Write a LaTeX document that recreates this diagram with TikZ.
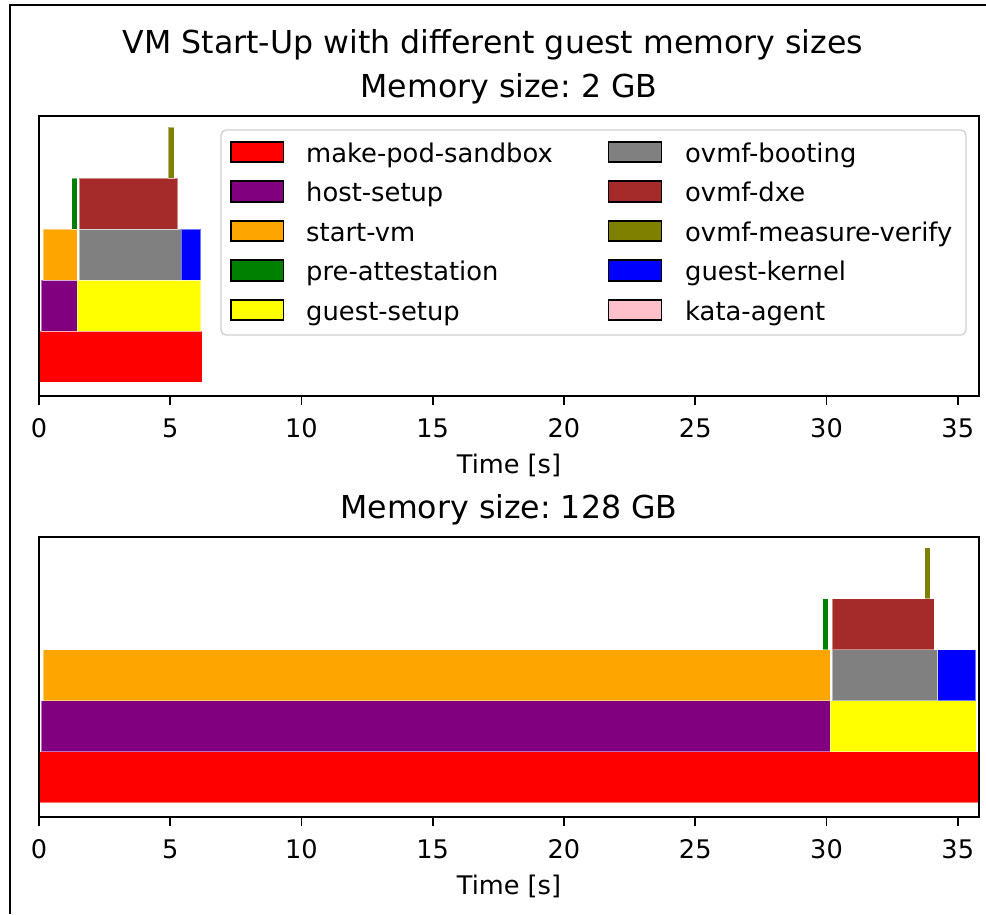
\documentclass[tikz,border=0pt]{standalone}
\usepackage{fontspec}
\setmainfont{DejaVu Sans}
\frenchspacing

% matplotlib named colours
\definecolor{cRed}{HTML}{FF0000}
\definecolor{cPurple}{HTML}{800080}
\definecolor{cOrange}{HTML}{FFA500}
\definecolor{cGreen}{HTML}{008000}
\definecolor{cYellow}{HTML}{FFFF00}
\definecolor{cGray}{HTML}{808080}
\definecolor{cBrown}{HTML}{A52A2A}
\definecolor{cOlive}{HTML}{808000}
\definecolor{cBlue}{HTML}{0000FF}
\definecolor{cPink}{HTML}{FFC0CB}
\definecolor{legendedge}{HTML}{D0D0D0}

\tikzset{
  titletext/.style={inner sep=0pt, font=\fontsize{31.6}{36}\selectfont},
  ticktext/.style={inner sep=0pt, font=\fontsize{25.6}{30}\selectfont},
  labeltext/.style={inner sep=0pt, font=\fontsize{25.6}{30}\selectfont},
  legendtext/.style={inner sep=0pt, anchor=base west, font=\fontsize{25.8}{30}\selectfont},
  axisline/.style={line width=1.8pt, draw=black},
  barpart/.style={draw=white, draw opacity=0.45, line width=0.8pt},
  legendpatch/.style={draw=black, line width=1.6pt},
}

\begin{document}
\begin{tikzpicture}[x=1pt,y=-1pt]
\useasboundingbox (0,0) rectangle (986,914);
\fill[white] (0,0) rectangle (986,914);

% figure frame (left and top edges)
\draw[line width=2.6pt] (10,914) -- (10,5) -- (986,5);

% titles
\node[titletext, anchor=base] (suptitle) at (493,53) {VM Start-Up with different guest memory sizes};
\node[titletext, anchor=base] (titleA) at (509,97) {Memory size: 2 GB};
\node[titletext, anchor=base] (titleB) at (509,518) {Memory size: 128 GB};

% ---------- panel A: 2 GB ----------
\begin{scope}[shift={(39,382.3)}, x=26.25pt, y=51pt]
  \foreach \s/\e/\r/\c in {
      0/6.22/0/cRed,
      0.09/1.46/1/cPurple, 1.46/6.16/1/cYellow,
      0.16/1.46/2/cOrange, 1.54/5.41/2/cGray, 5.41/6.16/2/cBlue,
      1.25/1.46/3/cGreen, 1.54/5.28/3/cBrown,
      4.93/5.14/4/cOlive}
    \filldraw[barpart, fill=\c] (\s,\r) rectangle (\e,\r+1);
\end{scope}

% legend
\draw[rounded corners=5pt, draw=legendedge, line width=1.3pt, fill=white] (221,130) rectangle (966,335);
\foreach \lab/\c [count=\i from 0] in {make-pod-sandbox/cRed, host-setup/cPurple, start-vm/cOrange, pre-attestation/cGreen, guest-setup/cYellow} {
  \filldraw[legendpatch, fill=\c] (231,{152+39.5*\i-10.25}) rectangle (283.5,{152+39.5*\i+10.25});
  \node[legendtext] (legL\i) at (306,{162+39.5*\i}) {\lab};
}
\foreach \lab/\c [count=\i from 0] in {ovmf-booting/cGray, ovmf-dxe/cBrown, ovmf-measure-verify/cOlive, guest-kernel/cBlue, kata-agent/cPink} {
  \filldraw[legendpatch, fill=\c] (608.5,{152+39.5*\i-10.25}) rectangle (661.5,{152+39.5*\i+10.25});
  \node[legendtext] (legR\i) at (685,{162+39.5*\i}) {\lab};
}

% axes A
\draw[axisline] (39,116) rectangle (979,396);
\foreach \t in {0,5,...,35} {
  \draw[axisline] ({39+26.25*\t},396) -- ({39+26.25*\t},405);
  \node[ticktext, anchor=base] (tickA\t) at ({39+26.25*\t},437) {\t};
}
\node[labeltext, anchor=base] (xlabelA) at (509,473) {Time [s]};

% ---------- panel B: 128 GB ----------
\begin{scope}[shift={(39,802.7)}, x=26.25pt, y=51pt]
  \foreach \s/\e/\r/\c in {
      0/35.81/0/cRed,
      0.09/30.13/1/cPurple, 30.13/35.70/1/cYellow,
      0.16/30.13/2/cOrange, 30.22/34.24/2/cGray, 34.24/35.68/2/cBlue,
      29.86/30.07/3/cGreen, 30.22/34.11/3/cBrown,
      33.74/33.95/4/cOlive}
    \filldraw[barpart, fill=\c] (\s,\r) rectangle (\e,\r+1);
\end{scope}

% axes B
\draw[axisline] (39,537) rectangle (979,817);
\foreach \t in {0,5,...,35} {
  \draw[axisline] ({39+26.25*\t},817) -- ({39+26.25*\t},826);
  \node[ticktext, anchor=base] (tickB\t) at ({39+26.25*\t},858) {\t};
}
\node[labeltext, anchor=base] (xlabelB) at (509,894) {Time [s]};
\end{tikzpicture}
\end{document}
